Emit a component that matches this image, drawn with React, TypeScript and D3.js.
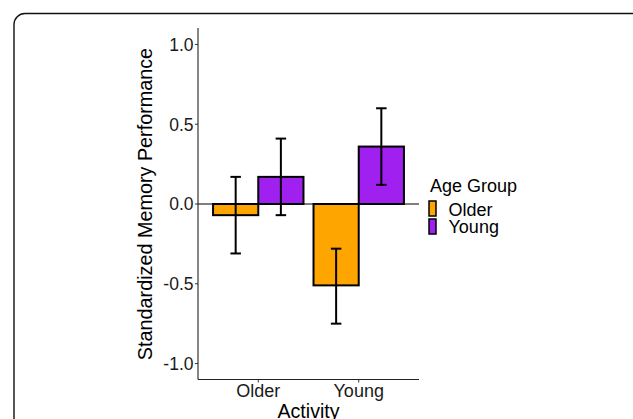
import React from 'react'
import * as d3 from 'd3'

const activities = ['Older', 'Young']
const ageGroups = ['Older', 'Young']
const olderMean = [-0.07, -0.51]
const olderLow = [-0.31, -0.75]
const olderHigh = [0.17, -0.28]
const youngMean = [0.17, 0.36]
const youngLow = [-0.07, 0.12]
const youngHigh = [0.41, 0.6]
const yTicks = [-1.0, -0.5, 0.0, 0.5, 1.0]
const groupColors = ['#FFA500', '#A020F0']

const W = 633
const H = 419
const left = 198
const right = 419
const top = 28.5
const bottom = 379.5
const font = "'Liberation Sans', Arial, sans-serif"

// R-style labels use a plain hyphen for the minus sign
const fmt = (v: number) => d3.format('.1f')(v).replace('\u2212', '-')

export default function App () {
  const y = d3.scaleLinear().domain([-1.1, 1.1]).range([bottom, top])
  const x = d3.scaleBand().domain(activities).range([left, right]).paddingInner(0.1).paddingOuter(0.15)
  const xi = d3.scaleBand().domain(ageGroups).range([0, x.bandwidth()])
  const color = d3.scaleOrdinal<string, string>().domain(ageGroups).range(groupColors)

  // one row per bar
  const rows = activities.flatMap((a, i) => [
    { act: a, grp: 'Older', mean: olderMean[i], lo: olderLow[i], hi: olderHigh[i] },
    { act: a, grp: 'Young', mean: youngMean[i], lo: youngLow[i], hi: youngHigh[i] }
  ])
  const cap = 10.5

  return (
    <div style={{ position: 'absolute', left: 0, top: 0 }}>
      <svg width={W} height={H} style={{ display: 'block', background: '#fff' }}>
        <rect x={14} y={13.5} width={640} height={500} rx={11} fill='none' stroke='#111' strokeWidth={1.4} />

        {/* zero line */}
        <line x1={left} x2={right} y1={y(0)} y2={y(0)} stroke='#000' strokeWidth={1.1} />

        {rows.map((d, i) => {
          const bx = x(d.act)! + xi(d.grp)!
          const y0 = y(Math.max(0, d.mean))
          const y1 = y(Math.min(0, d.mean))
          return (
            <rect key={'b' + i} x={bx} y={y0} width={xi.bandwidth()} height={y1 - y0}
              fill={color(d.grp)} stroke='#000' strokeWidth={2} />
          )
        })}

        {rows.map((d, i) => {
          const cx = x(d.act)! + xi(d.grp)! + xi.bandwidth() / 2
          return (
            <g key={'e' + i} stroke='#000' strokeWidth={2}>
              <line x1={cx} x2={cx} y1={y(d.lo)} y2={y(d.hi)} />
              <line x1={cx - cap / 2} x2={cx + cap / 2} y1={y(d.lo)} y2={y(d.lo)} />
              <line x1={cx - cap / 2} x2={cx + cap / 2} y1={y(d.hi)} y2={y(d.hi)} />
            </g>
          )
        })}

        {/* axes */}
        <line x1={left} x2={left} y1={top - 0.5} y2={bottom} stroke='#222' strokeWidth={1.1} />
        <line x1={left} x2={right} y1={bottom} y2={bottom} stroke='#222' strokeWidth={1.1} />

        {yTicks.map(t => (
          <g key={'y' + t}>
            <line x1={left - 3} x2={left} y1={y(t)} y2={y(t)} stroke='#333' />
            <text x={left - 4.5} y={y(t)} dy='0.36em' textAnchor='end' fontFamily={font} fontSize={17.5} fill='#1a1a1a'>
              {fmt(t)}
            </text>
          </g>
        ))}

        {activities.map(a => {
          const cx = x(a)! + x.bandwidth() / 2
          return (
            <g key={'x' + a}>
              <line x1={cx} x2={cx} y1={bottom} y2={bottom + 3} stroke='#333' />
              <text x={cx} y={397} textAnchor='middle' fontFamily={font} fontSize={18} fill='#1a1a1a'>{a}</text>
            </g>
          )
        })}

        <text x={(left + right) / 2} y={418} textAnchor='middle' fontFamily={font} fontSize={19.6} fill='#000'>Activity</text>
        <text transform={`translate(152,${(top + bottom) / 2}) rotate(-90)`} textAnchor='middle'
          fontFamily={font} fontSize={19.8} fill='#000'>Standardized Memory Performance</text>

        {/* legend */}
        <text x={430} y={191.5} fontFamily={font} fontSize={18} fill='#000'>Age Group</text>
        {ageGroups.map((g, i) => (
          <g key={'l' + g}>
            <rect x={429} y={201 + i * 18} width={7} height={15} fill={color(g)} stroke='#000' strokeWidth={1.5} />
            <text x={448.5} y={215.5 + i * 17.5} fontFamily={font} fontSize={18} fill='#000'>{g}</text>
          </g>
        ))}
      </svg>
    </div>
  )
}
